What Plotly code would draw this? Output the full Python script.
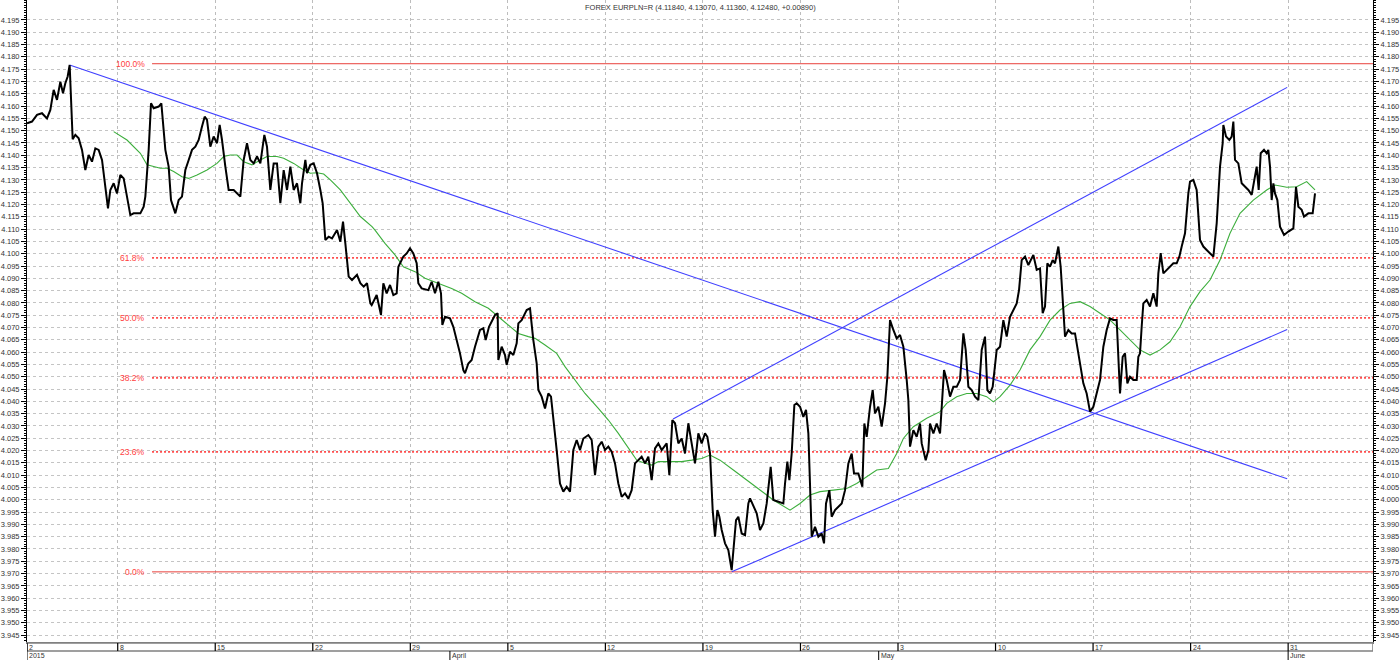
import plotly.graph_objects as go

title_text = "FOREX EURPLN=R (4.11840, 4.13070, 4.11360, 4.12480, +0.00890)"

# time axis in trading days (5 per week)
price_t = [0.0, 0.256, 0.513, 0.769, 1.025, 1.196, 1.367, 1.538, 1.709, 1.846, 1.965, 2.085, 2.187, 2.273, 2.341,
           2.478, 2.649, 2.820, 2.990, 3.161, 3.332, 3.503, 3.674, 3.845, 4.016, 4.152, 4.272, 4.443, 4.614, 4.785,
           4.956, 5.126, 5.297, 5.468, 5.810, 5.981, 6.066, 6.237, 6.357, 6.494, 6.750, 6.887, 7.006, 7.092, 7.262,
           7.382, 7.604, 7.775, 7.946, 8.117, 8.288, 8.459, 8.630, 8.800, 8.971, 9.108, 9.228, 9.398, 9.569, 9.740,
           9.877, 9.997, 10.168, 10.338, 10.595, 10.936, 11.107, 11.278, 11.449, 11.620, 11.791, 11.962, 12.167,
           12.303, 12.474, 12.645, 12.816, 12.987, 13.158, 13.329, 13.500, 13.671, 13.842, 14.012, 14.098, 14.269,
           14.354, 14.525, 14.696, 14.867, 15.038, 15.157, 15.294, 15.465, 15.636, 15.892, 16.063, 16.200, 16.319,
           16.490, 16.661, 16.917, 17.088, 17.259, 17.430, 17.601,
           17.669, 17.925, 18.147, 18.267, 18.438, 18.609, 18.780, 18.950, 19.036, 19.292, 19.463, 19.634, 19.805,
           19.976, 20.061, 20.232, 20.574, 20.745, 20.916, 21.086, 21.223, 21.291, 21.428, 21.685, 21.855, 22.026,
           22.197, 22.368, 22.453, 22.624, 22.795, 22.966, 23.222, 23.393, 23.513, 23.684, 23.991, 24.128, 24.162,
           24.333, 24.504, 24.589, 24.760, 24.931, 25.102, 25.188, 25.358, 25.615, 25.786, 25.956, 26.127, 26.213,
           26.384, 26.555, 26.725, 26.862, 26.982, 27.153, 27.323, 27.494, 27.665, 27.836, 28.007, 28.178, 28.349,
           28.520, 28.776, 28.947, 29.118, 29.289, 29.460, 29.630, 29.801, 29.972, 30.143, 30.314, 30.485, 30.656,
           30.827, 30.997, 31.168, 31.339, 31.510, 31.681, 31.852, 32.023, 32.194, 32.365, 32.535, 32.792, 32.929,
           33.082, 33.219, 33.390, 33.561, 33.732, 33.903, 34.073, 34.244, 34.415, 34.586, 34.757, 34.877,
           35.014, 35.150, 35.270, 35.390, 35.492, 35.612, 35.783, 35.953, 36.124, 36.210, 36.347, 36.466, 36.637,
           36.808, 36.979, 37.064, 37.235, 37.406, 37.577, 37.748, 37.919, 38.124, 38.260, 38.517, 38.773, 38.859,
           38.978, 39.081, 39.200, 39.337, 39.457, 39.628, 39.798, 39.935, 40.055, 40.226, 40.396, 40.567, 40.738,
           40.858, 40.960, 41.131, 41.251, 41.422, 41.593, 41.764, 41.935, 42.105, 42.276, 42.396, 42.618, 42.823,
           42.925, 43.045, 43.216, 43.353, 43.472, 43.643, 43.814, 43.985, 44.105, 44.241, 44.412, 44.583, 44.754,
           44.925, 45.096, 45.181, 45.267, 45.438, 45.608, 45.779, 45.865, 45.984, 46.070, 46.207, 46.292, 46.463,
           46.634, 46.805, 46.924, 47.010, 47.146, 47.317, 47.488, 47.659, 47.830, 48.001, 48.120, 48.257, 48.428,
           48.599, 48.770, 48.941, 49.111, 49.231, 49.368, 49.504, 49.709, 49.880, 50.051, 50.222, 50.393, 50.564,
           50.735, 50.854, 50.991, 51.162, 51.333, 51.589, 51.760, 51.930,
           52.067, 52.186, 52.306, 52.443, 52.579, 52.699, 52.870, 52.989, 53.092, 53.212, 53.382, 53.553, 53.724,
           53.810, 53.981, 54.151, 54.322, 54.493, 54.664, 54.835, 55.006, 55.177, 55.348, 55.518, 55.689, 55.860,
           55.946, 56.031, 56.168, 56.288, 56.407, 56.544, 56.715, 56.886, 56.971, 57.057, 57.142, 57.227, 57.398,
           57.569, 57.740, 57.911, 57.996, 58.116, 58.253, 58.424, 58.594, 58.765, 58.936, 59.073, 59.193, 59.363,
           59.534, 59.620, 59.791, 59.961, 60.132, 60.303, 60.474, 60.645, 60.816, 60.987, 61.158, 61.294, 61.328,
           61.465, 61.636, 61.756, 61.841, 61.927, 62.097, 62.268, 62.439, 62.610, 62.781, 62.952, 63.037, 63.140,
           63.243, 63.413, 63.550, 63.635, 63.721, 63.806, 63.892, 63.977, 64.097, 64.233, 64.439, 64.661, 64.917,
           65.054, 65.173, 65.344, 65.464, 65.686, 65.908, 66.028]
price_v = [4.1530, 4.1537, 4.1564, 4.1571, 4.1550, 4.1584, 4.1666, 4.1625, 4.1699, 4.1652, 4.1693, 4.1720, 4.1767,
           4.1557, 4.1465, 4.1483, 4.1469, 4.1422, 4.1340, 4.1401, 4.1374, 4.1428, 4.1422, 4.1381, 4.1259, 4.1184,
           4.1259, 4.1286, 4.1245, 4.1320, 4.1306, 4.1225, 4.1157, 4.1164, 4.1164, 4.1191, 4.1232, 4.1422, 4.1611,
           4.1591, 4.1598, 4.1611, 4.1517, 4.1422, 4.1354, 4.1218, 4.1164, 4.1218, 4.1232, 4.1340, 4.1381, 4.1422,
           4.1435, 4.1462, 4.1517, 4.1557, 4.1544, 4.1435, 4.1476, 4.1449, 4.1523, 4.1462, 4.1354, 4.1259, 4.1259,
           4.1232, 4.1381, 4.1449, 4.1381, 4.1367, 4.1395, 4.1367, 4.1483, 4.1435, 4.1259, 4.1367, 4.1367, 4.1205,
           4.1340, 4.1259, 4.1354, 4.1259, 4.1286, 4.1205, 4.1286, 4.1381, 4.1327, 4.1361, 4.1367, 4.1327, 4.1259,
           4.1205, 4.1056, 4.1069, 4.1062, 4.1096, 4.1049, 4.1130, 4.1042, 4.0907, 4.0893, 4.0914, 4.0880, 4.0866,
           4.0880, 4.0798,
           4.0791, 4.0832, 4.0751, 4.0880, 4.0839, 4.0873, 4.0832, 4.0839, 4.0947, 4.0988, 4.1001, 4.1022, 4.1001,
           4.0961, 4.0880, 4.0859, 4.0852, 4.0886, 4.0839, 4.0886, 4.0839, 4.0710, 4.0744, 4.0737, 4.0703, 4.0649,
           4.0595, 4.0527, 4.0514, 4.0554, 4.0568, 4.0622, 4.0690, 4.0697, 4.0649, 4.0703, 4.0751, 4.0758, 4.0568,
           4.0622, 4.0588, 4.0548, 4.0602, 4.0588, 4.0636, 4.0717, 4.0730, 4.0771, 4.0778, 4.0649, 4.0554, 4.0446,
           4.0419, 4.0371, 4.0432, 4.0419, 4.0337, 4.0202, 4.0066, 4.0033, 4.0053, 4.0033, 4.0202, 4.0243, 4.0202,
           4.0249, 4.0263, 4.0243, 4.0100, 4.0216, 4.0236, 4.0202, 4.0216, 4.0195, 4.0148, 4.0066, 4.0012, 4.0026,
           4.0005, 4.0039, 4.0148, 4.0161, 4.0175, 4.0148, 4.0175, 4.0080, 4.0209, 4.0229, 4.0202, 4.0229, 4.0100,
           4.0324, 4.0311, 4.0229, 4.0249, 4.0188, 4.0311, 4.0229, 4.0148, 4.0270, 4.0229, 4.0270, 4.0256,
           4.0189, 3.9958, 3.9850, 3.9958, 3.9931, 3.9877, 3.9823, 3.9796, 3.9714, 3.9796, 3.9917, 3.9931, 3.9863,
           3.9856, 3.9985, 4.0006, 3.9972, 3.9945, 3.9877, 3.9904, 3.9985, 4.0134, 3.9999, 3.9992, 3.9985, 4.0066,
           4.0155, 4.0080, 4.0188, 4.0385, 4.0392, 4.0378, 4.0337, 4.0365, 4.0270, 3.9850, 3.9890, 3.9850, 3.9863,
           3.9823, 3.9985, 4.0039, 3.9931, 3.9958, 3.9972, 3.9985, 4.0039, 4.0148, 4.0188, 4.0107, 4.0107, 4.0053,
           4.0310, 4.0256, 4.0378, 4.0446, 4.0351, 4.0378, 4.0297, 4.0392, 4.0500, 4.0730, 4.0690, 4.0656, 4.0670,
           4.0622, 4.0487, 4.0405, 4.0216, 4.0283, 4.0256, 4.0310, 4.0229, 4.0188, 4.0161, 4.0202, 4.0310, 4.0270,
           4.0310, 4.0270, 4.0446, 4.0527, 4.0487, 4.0419, 4.0459, 4.0459, 4.0487, 4.0676, 4.0609, 4.0459, 4.0446,
           4.0419, 4.0405, 4.0609, 4.0663, 4.0446, 4.0432, 4.0459, 4.0609, 4.0622, 4.0730, 4.0663, 4.0744, 4.0771,
           4.0798, 4.0852, 4.0974, 4.0988, 4.0954, 4.0995, 4.0934, 4.0940,
           4.0758, 4.0785, 4.0961, 4.0947, 4.0974, 4.0961, 4.1029, 4.0947, 4.0812, 4.0663, 4.0690, 4.0676, 4.0676,
           4.0636, 4.0541, 4.0473, 4.0432, 4.0358, 4.0378, 4.0432, 4.0487, 4.0622, 4.0690, 4.0737, 4.0731, 4.0731,
           4.0595, 4.0432, 4.0581, 4.0595, 4.0473, 4.0500, 4.0487, 4.0487, 4.0581, 4.0595, 4.0703, 4.0798, 4.0812,
           4.0785, 4.0839, 4.0785, 4.0920, 4.1002, 4.0920, 4.0934, 4.0947, 4.0961, 4.0961, 4.0988, 4.1029, 4.1083,
           4.1245, 4.1293, 4.1300, 4.1259, 4.1056, 4.1029, 4.1015, 4.1001, 4.0988, 4.1123, 4.1354, 4.1449, 4.1523,
           4.1476, 4.1462, 4.1476, 4.1537, 4.1381, 4.1367, 4.1286, 4.1272, 4.1259, 4.1239, 4.1313, 4.1354, 4.1259,
           4.1408, 4.1422, 4.1408, 4.1422, 4.1354, 4.1218, 4.1286, 4.1245, 4.1218, 4.1110, 4.1076, 4.1090, 4.1103,
           4.1272, 4.1191, 4.1178, 4.1151, 4.1164, 4.1164, 4.1245]

ma_t = [4.443, 5.126, 5.810, 6.152, 6.494, 6.835, 7.177, 7.519, 7.946, 8.288, 8.715, 9.228, 9.740, 10.082, 10.424,
        10.766, 11.107, 11.535, 11.962, 12.303, 12.816, 13.158, 13.671, 14.183, 14.525, 14.867, 15.209, 15.550,
        16.063, 16.576, 17.088, 17.686, 17.840, 18.352, 18.865, 19.292, 19.890, 20.403, 21.086, 21.770, 22.283,
        22.966, 23.650, 24.162, 24.675, 25.188, 25.700, 26.042, 26.555, 27.153, 27.580, 28.093, 28.605, 29.289,
        29.801, 30.314, 30.827, 31.254, 31.681, 32.023, 32.365, 32.877, 33.561, 34.073, 34.586, 35.014, 35.526,
        36.210, 36.893, 37.577, 38.260, 39.115, 39.628, 40.140, 40.653, 41.336, 42.020, 42.532, 43.045, 43.558,
        44.156, 44.583, 44.925, 45.438, 46.121, 46.805, 47.146, 47.659, 48.172, 48.684, 49.197, 49.539, 49.880,
        50.393, 50.905, 51.418, 51.931, 52.443, 52.955, 53.468, 53.981, 54.493, 55.006, 55.518, 56.031, 56.544,
        57.057, 57.569, 58.082, 58.594, 59.107, 59.620, 60.132, 60.645, 61.158, 61.670, 62.183, 62.866, 63.550,
        63.977, 64.575, 65.088, 65.601, 66.028]
ma_v = [4.1496, 4.1462, 4.1408, 4.1361, 4.1354, 4.1347, 4.1347, 4.1334, 4.1313, 4.1306, 4.1320, 4.1340, 4.1367,
        4.1395, 4.1401, 4.1401, 4.1374, 4.1361, 4.1381, 4.1395, 4.1395, 4.1388, 4.1367, 4.1340, 4.1327, 4.1329,
        4.1324, 4.1300, 4.1259, 4.1205, 4.1151, 4.1110, 4.1096, 4.1042, 4.0995, 4.0947, 4.0927, 4.0900, 4.0880,
        4.0859, 4.0839, 4.0805, 4.0778, 4.0744, 4.0710, 4.0676, 4.0663, 4.0656, 4.0629, 4.0595, 4.0541, 4.0487,
        4.0432, 4.0371, 4.0324, 4.0270, 4.0209, 4.0161, 4.0148, 4.0141, 4.0155, 4.0155, 4.0155, 4.0161, 4.0168,
        4.0182, 4.0161, 4.0121, 4.0080, 4.0039, 3.9999, 3.9958, 3.9985, 4.0019, 4.0033, 4.0039, 4.0046, 4.0066,
        4.0093, 4.0121, 4.0127, 4.0188, 4.0249, 4.0297, 4.0331, 4.0358, 4.0392, 4.0419, 4.0432, 4.0432, 4.0419,
        4.0398, 4.0419, 4.0466, 4.0527, 4.0609, 4.0663, 4.0730, 4.0771, 4.0798, 4.0805, 4.0785, 4.0758, 4.0731,
        4.0690, 4.0649, 4.0609, 4.0588, 4.0609, 4.0642, 4.0703, 4.0785, 4.0846, 4.0893, 4.0974, 4.1083, 4.1164,
        4.1218, 4.1259, 4.1279, 4.1270, 4.1272, 4.1293, 4.1259]

trend_a_t = [2.187, 64.6]
trend_a_v = [4.1767, 4.0085]
trend_b_t = [33.12, 64.6]
trend_b_v = [4.0328, 4.1676]
trend_c_t = [36.125, 64.6]
trend_c_v = [3.9707, 4.0692]

fib_high = 4.1772
fib_low = 3.9707
fib_ratios = [1.0, 0.618, 0.5, 0.382, 0.236, 0.0]
fib_labels = ["100.0%", "61.8%", "50.0%", "38.2%", "23.6%", "0.0%"]

week_ticks = [0, 4.65, 9.65, 14.65, 19.65, 24.65, 29.65, 34.65, 39.65, 44.65, 49.65, 54.65, 59.65, 64.65]
week_labels = ["2", "8", "15", "22", "29", "5", "12", "19", "26", "3", "10", "17", "24", "31"]
month_ticks = [0, 21.68, 43.66, 64.65]
month_labels = ["2015", "April", "May", "June"]

y_ticks = [round(3.945 + 0.005 * i, 3) for i in range(51)]

X0, X1 = 0, 69
Y0, Y1 = 3.9422, 4.2031
FIB_X0 = 6.41
FONT = "Liberation Sans, Arial, sans-serif"

fig = go.Figure()

# fib lines
for r, lab in zip(fib_ratios, fib_labels):
    lvl = fib_low + r * (fib_high - fib_low)
    solid = r in (0.0, 1.0)
    fig.add_trace(go.Scatter(
        x=[FIB_X0, X1], y=[lvl, lvl], mode="lines", hoverinfo="skip",
        line=dict(color="#e8413c" if solid else "#ff4d4d", width=1 if solid else 1.8,
                  dash="solid" if solid else "2px,2px")))
    fig.add_annotation(x=FIB_X0 - 0.25, y=lvl, xref="x", yref="y", text=lab, showarrow=False,
                       xanchor="right", yanchor="middle",
                       font=dict(family=FONT, size=8.5, color="#ff4040"))

# trend lines
for tt, vv in ((trend_a_t, trend_a_v), (trend_b_t, trend_b_v), (trend_c_t, trend_c_v)):
    fig.add_trace(go.Scatter(x=tt, y=vv, mode="lines", hoverinfo="skip",
                             line=dict(color="#4040ff", width=1.1)))

# moving average
fig.add_trace(go.Scatter(x=ma_t, y=ma_v, mode="lines", hoverinfo="skip",
                         line=dict(color="#3cae3c", width=1.1)))

# price
fig.add_trace(go.Scatter(x=price_t, y=price_v, mode="lines", hoverinfo="skip",
                         line=dict(color="black", width=2)))

# right axis dummy
fig.add_trace(go.Scatter(x=[X0], y=[Y0], yaxis="y2", mode="markers", marker=dict(opacity=0),
                         hoverinfo="skip"))

tickfont = dict(family=FONT, size=7.5, color="#333333")
yax_common = dict(range=[Y0, Y1], tickvals=y_ticks, ticktext=[f"{v:.3f}" for v in y_ticks],
                  ticks="outside", ticklen=5, tickcolor="black", tickfont=tickfont,
                  showline=True, linecolor="black", linewidth=1, zeroline=False,
                  minor=dict(dtick=0.001, tick0=3.945, ticks="outside", ticklen=2, tickcolor="black",
                             showgrid=False))

fig.update_layout(
    width=1400, height=660,
    margin=dict(l=27, r=27, t=0, b=18),
    paper_bgcolor="white", plot_bgcolor="white",
    showlegend=False,
    xaxis=dict(range=[X0, X1], tickvals=week_ticks, showticklabels=False, ticks="",
               showgrid=True, gridcolor="#bdbdbd", griddash="3px,3px", gridwidth=1,
               zeroline=False, showline=True, linecolor="#808080", linewidth=2),
    yaxis=dict(side="left", showgrid=True, gridcolor="#c4c4c4", griddash="3px,3px", gridwidth=1,
               **yax_common),
    yaxis2=dict(side="right", overlaying="y", showgrid=False, **yax_common),
)

# bottom date band
BAND_TOP = -0.0016
BAND_BOT = -0.0140
MONTH_BOT = -0.03
fig.add_shape(type="rect", xref="x", yref="paper", x0=X0, x1=X1, y0=BAND_BOT, y1=BAND_TOP,
              line=dict(color="#808080", width=1.5), fillcolor="white")
for wt, wl in zip(week_ticks, week_labels):
    fig.add_shape(type="line", xref="x", yref="paper", x0=wt, x1=wt, y0=BAND_BOT, y1=BAND_TOP,
                  line=dict(color="black", width=1.2))
    fig.add_annotation(x=wt, y=(BAND_TOP + BAND_BOT) / 2, xref="x", yref="paper", text=wl,
                       showarrow=False, xanchor="left", yanchor="middle", xshift=1,
                       borderpad=0, font=dict(family=FONT, size=7, color="#333333"))
for mt, ml in zip(month_ticks, month_labels):
    fig.add_shape(type="line", xref="x", yref="paper", x0=mt, x1=mt, y0=MONTH_BOT, y1=BAND_BOT,
                  line=dict(color="black", width=1))
    fig.add_annotation(x=mt, y=BAND_BOT, xref="x", yref="paper", text=ml,
                       showarrow=False, xanchor="left", yanchor="top", xshift=1, yshift=0,
                       borderpad=0, font=dict(family=FONT, size=7, color="#333333"))

fig.add_annotation(x=0.5007, y=1.0, xref="paper", yref="paper", text=title_text, showarrow=False,
                   xanchor="center", yanchor="top", yshift=-1,
                   font=dict(family=FONT, size=7.5, color="#333333"))

fig.write_html("out.html", config={"displayModeBar": False},
               post_script="document.body.style.margin='0';")
